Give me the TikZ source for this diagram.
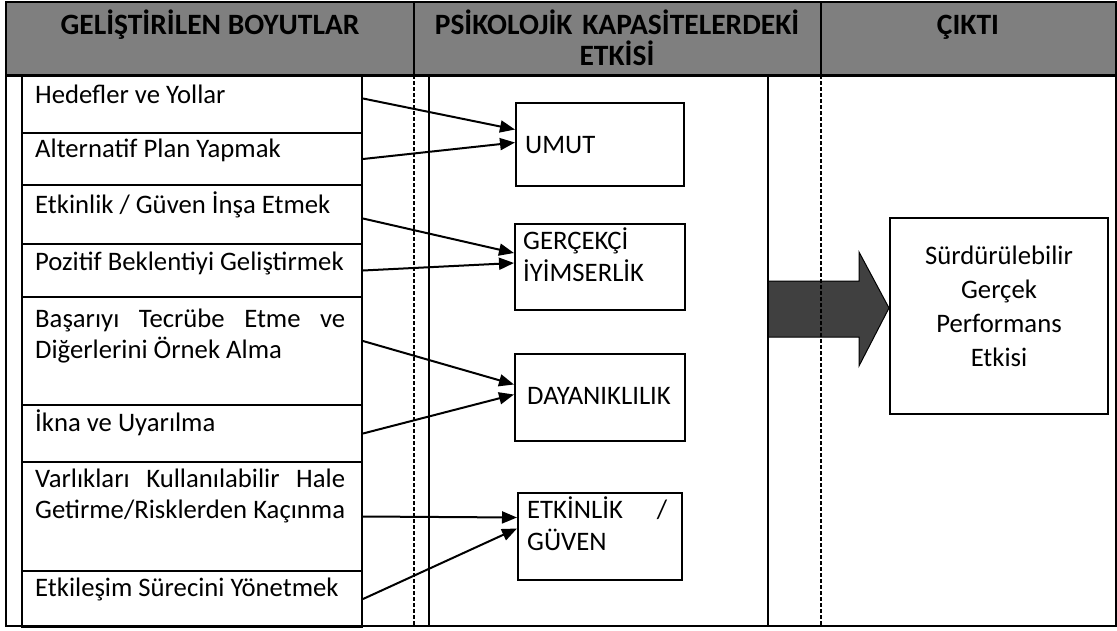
\documentclass[tikz,border=0pt]{standalone}
\usepackage{fontspec}
\setmainfont{Carlito}
\usetikzlibrary{arrows.meta}

\definecolor{headgray}{HTML}{7F7F7F}
\definecolor{blockgray}{HTML}{404040}

\tikzset{
	rowbox/.style={draw, line width=2pt, anchor=north west, minimum width=340pt, inner sep=0pt},
	rowtext/.style={anchor=base west, inner sep=0pt, text width=310pt, align=justify, font=\fontsize{26.7pt}{31pt}\selectfont},
	capbox/.style={draw, line width=2pt, anchor=north west, inner sep=0pt},
	captext/.style={anchor=base west, inner sep=0pt, align=justify, font=\fontsize{26.7pt}{32pt}\selectfont},
	headtext/.style={anchor=base, inner sep=0pt, align=center, font=\bfseries\fontsize{29.5pt}{31pt}\selectfont},
	feedarrow/.style={line width=2pt, -{Triangle[length=15pt,width=12pt]}},
	colsep/.style={line width=1.3pt, dash pattern=on 4pt off 2pt}
}

\begin{document}
\begin{tikzpicture}[x=1pt, y=-1pt]
	\useasboundingbox (0,0) rectangle (1117,630);

	% header band
	\fill[headgray] (6,2) rectangle (1116,75);
	\node[headtext] (h1) at (210,34) {GELİŞTİRİLEN BOYUTLAR};
	\node[headtext, text width=400pt] (h2) at (617,34) {PSİKOLOJİK KAPASİTELERDEKİ\\ETKİSİ};
	\node[headtext] (h3) at (968,34) {ÇIKTI};

	% big block arrow to the output
	\coordinate (tip) at (889,308);
	\draw[fill=blockgray, line width=1pt] (768,281) -- (859,281) -- (859,252) -- (tip)
		-- (859,366) -- (859,337) -- (768,337) -- cycle;

	% table frame
	\draw[line width=2.5pt] (6,2) rectangle (1116,626);
	\draw[line width=3pt] (6,75) -- (1116,75);
	\draw[line width=2pt] (414,2) -- (414,75);
	\draw[line width=2pt] (821,2) -- (821,75);
	\draw[colsep] (414,75) -- (414,626);
	\draw[colsep] (821,75) -- (821,626);
	\draw[line width=2pt] (429,75) rectangle (768,626);

	% developed dimensions
	\node[rowbox, minimum height=57pt] (b1) at (21,75) {};
	\node[rowbox, minimum height=52pt] (b2) at (21,132) {};
	\node[rowbox, minimum height=59pt] (b3) at (21,184) {};
	\node[rowbox, minimum height=53pt] (b4) at (21,243) {};
	\node[rowbox, minimum height=108pt] (b5) at (21,296) {};
	\node[rowbox, minimum height=57pt] (b6) at (21,404) {};
	\node[rowbox, minimum height=109pt] (b7) at (21,461) {};
	\node[rowbox, minimum height=56pt] (b8) at (21,570) {};

	\node[rowtext] (t1) at ([xshift=14pt,yshift=-28pt]b1.north west) {Hedefler ve Yollar};
	\node[rowtext] (t2) at ([xshift=14pt,yshift=-25pt]b2.north west) {Alternatif Plan Yapmak};
	\node[rowtext] (t3) at ([xshift=14pt,yshift=-29pt]b3.north west) {Etkinlik / Güven İnşa Etmek};
	\node[rowtext] (t4) at ([xshift=14pt,yshift=-27pt]b4.north west) {Pozitif Beklentiyi Geliştirmek};
	\node[rowtext] (t5) at ([xshift=14pt,yshift=-31pt]b5.north west) {Başarıyı Tecrübe Etme ve\linebreak Diğerlerini Örnek Alma};
	\node[rowtext] (t6) at ([xshift=14pt,yshift=-27pt]b6.north west) {İkna ve Uyarılma};
	\node[rowtext] (t7) at ([xshift=14pt,yshift=-26pt]b7.north west) {Varlıkları Kullanılabilir Hale\linebreak Getirme/Risklerden Kaçınma};
	\node[rowtext] (t8) at ([xshift=14pt,yshift=-26pt]b8.north west) {Etkileşim Sürecini Yönetmek};

	% psychological capacities
	\node[capbox, minimum width=168pt, minimum height=83pt] (umut) at (515,102) {};
	\node[capbox, minimum width=170pt, minimum height=86pt] (iyim) at (514,223) {};
	\node[capbox, minimum width=170pt, minimum height=87pt] (dayan) at (514,353) {};
	\node[capbox, minimum width=164pt, minimum height=87pt] (guven) at (517,492) {};

	\node[captext] (umutT) at ([xshift=10pt,yshift=-51pt]umut.north west) {UMUT};
	\node[captext, text width=150pt] (iyimT) at ([xshift=9pt,yshift=-26pt]iyim.north west) {GERÇEKÇİ\\İYİMSERLİK};
	\node[captext] (dayanT) at ([xshift=13pt,yshift=-51pt]dayan.north west) {DAYANIKLILIK};
	\node[captext, text width=140pt] (guvenT) at ([xshift=10pt,yshift=-26pt]guven.north west) {ETKİNLİK / GÜVEN};

	% output
	\node[capbox, minimum width=218pt, minimum height=196pt] (out) at (889,217) {};
	\node[anchor=base, inner sep=0pt, text width=210pt, align=center, font=\fontsize{26.7pt}{34pt}\selectfont] (outT)
		at ([yshift=-47pt]out.north) {Sürdürülebilir\\Gerçek\\Performans\\Etkisi};

	% links
	\draw[feedarrow] ([yshift=6pt]b1.east) -- ([yshift=15pt]umut.west);
	\draw[feedarrow] (b2.east) -- ([yshift=2pt]umut.west);
	\draw[feedarrow] ([yshift=-4pt]b3.east) -- ([yshift=14pt]iyim.west);
	\draw[feedarrow] (b4.east) -- ([yshift=4pt]iyim.west);
	\draw[feedarrow] ([yshift=10pt]b5.east) -- ([yshift=13pt]dayan.west);
	\draw[feedarrow] (b6.east) -- ([yshift=3pt]dayan.west);
	\draw[feedarrow] (b7.east) -- ([yshift=19pt]guven.west);
	\draw[feedarrow] (b8.east) -- ([yshift=8pt]guven.west);
\end{tikzpicture}
\end{document}
